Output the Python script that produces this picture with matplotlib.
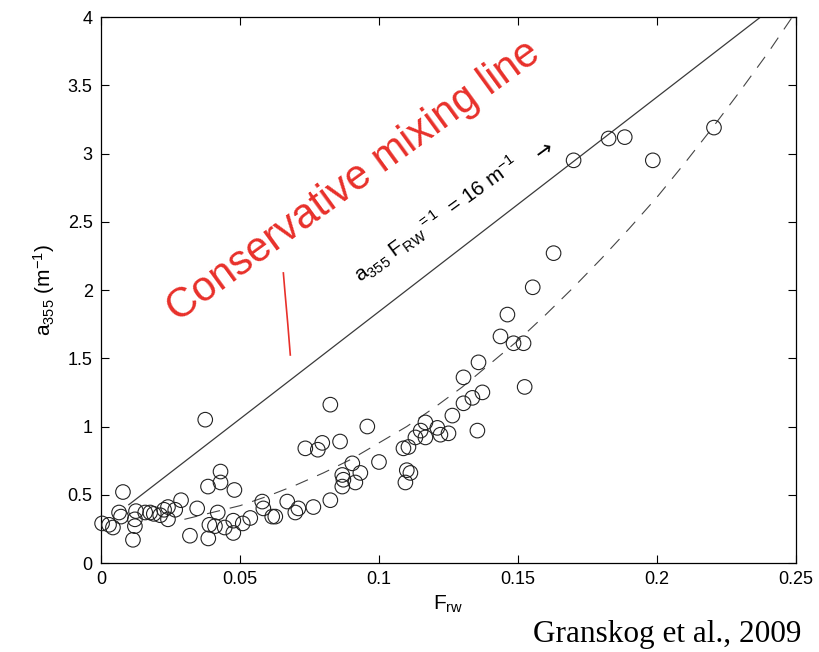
import matplotlib
matplotlib.use('Agg')
import matplotlib.pyplot as plt

plt.rcParams['font.family'] = ['Liberation Sans', 'DejaVu Sans']
plt.rcParams['mathtext.default'] = 'regular'

# measured samples: fraction of river water vs absorption at 355 nm
frw = [0.0004, 0.0029, 0.0043, 0.0065, 0.0072, 0.0079, 0.0126, 0.0122, 0.0122, 0.0115,
       0.0159, 0.0177, 0.019, 0.0213, 0.0227, 0.0241, 0.0241, 0.0267, 0.0288,
       0.032, 0.0346, 0.0375, 0.0385, 0.0386, 0.039, 0.041, 0.042, 0.043, 0.043,
       0.0445, 0.0476, 0.0476, 0.048, 0.051, 0.0537, 0.058, 0.0584, 0.0616, 0.0627,
       0.067, 0.0699, 0.071, 0.0735, 0.0764, 0.078, 0.0796, 0.0825, 0.0825,
       0.086, 0.0868, 0.0868, 0.0872, 0.0904, 0.0915, 0.0933, 0.0958, 0.1,
       0.1088, 0.1095, 0.1106, 0.110, 0.1113, 0.1131, 0.115, 0.1167, 0.1167,
       0.121, 0.1221, 0.125, 0.1264, 0.1304, 0.1304, 0.1336, 0.1354, 0.1358,
       0.1372, 0.1437, 0.1462, 0.1484, 0.152, 0.1524, 0.1553, 0.1628,
       0.170, 0.1826, 0.1884, 0.1985, 0.2205]
a355 = [0.29, 0.28, 0.26, 0.37, 0.34, 0.52, 0.38, 0.32, 0.27, 0.17,
        0.37, 0.37, 0.36, 0.35, 0.39, 0.41, 0.32, 0.39, 0.46,
        0.20, 0.40, 1.05, 0.56, 0.18, 0.28, 0.27, 0.37, 0.67, 0.59,
        0.26, 0.31, 0.22, 0.535, 0.29, 0.33, 0.45, 0.40, 0.34, 0.34,
        0.45, 0.37, 0.40, 0.84, 0.41, 0.83, 0.88, 1.16, 0.46,
        0.89, 0.645, 0.56, 0.61, 0.73, 0.59, 0.66, 1.0, 0.74,
        0.84, 0.59, 0.85, 0.68, 0.66, 0.92, 0.97, 1.03, 0.92,
        0.99, 0.94, 0.95, 1.08, 1.17, 1.36, 1.21, 0.97, 1.47,
        1.25, 1.66, 1.82, 1.61, 1.61, 1.29, 2.02, 2.27,
        2.95, 3.11, 3.12, 2.95, 3.19]

# conservative mixing line between sea-ice end member and river water (16 m^-1)
mix_x = [0.01, 0.25]
mix_y = [0.427, 4.20]

# fitted curve through the samples
fit_x = [0.03, 0.04, 0.05, 0.06, 0.07, 0.08, 0.09, 0.10, 0.11, 0.12, 0.13, 0.14,
         0.15, 0.16, 0.17, 0.18, 0.19, 0.20, 0.21, 0.22, 0.23, 0.24, 0.25]
fit_y = [0.32, 0.37, 0.42, 0.49, 0.57, 0.66, 0.76, 0.88, 1.00, 1.14, 1.29, 1.46,
         1.63, 1.82, 2.02, 2.23, 2.45, 2.68, 2.93, 3.19, 3.46, 3.74, 4.04]

# hand-drawn pointer from the red label to the mixing line
pointer_x = [0.0656, 0.0662, 0.0672, 0.0681]
pointer_y = [2.125, 1.98, 1.75, 1.524]

xticks = [0, 0.05, 0.1, 0.15, 0.2, 0.25]
xticklabels = ['0', '0.05', '0.1', '0.15', '0.2', '0.25']
yticks = [0, 0.5, 1, 1.5, 2, 2.5, 3, 3.5, 4]
yticklabels = ['0', '0.5', '1', '1.5', '2', '2.5', '3', '3.5', '4']

fig = plt.figure(figsize=(8.19, 6.52), dpi=100)
ax = fig.add_axes([0.1233, 0.1365, 0.8486, 0.8374])

ax.plot(mix_x, mix_y, color='#3a3a3a', lw=0.9)
ax.plot(fit_x, fit_y, color='#444444', lw=0.8, dashes=(12, 9))
ax.scatter(frw, a355, s=110, facecolors='none', edgecolors='#222222', linewidths=0.8,
           clip_on=False, zorder=3)

ax.set_xlim(0, 0.25)
ax.set_ylim(0, 4)
ax.set_xticks(xticks)
ax.set_xticklabels(xticklabels)
ax.set_yticks(yticks)
ax.set_yticklabels(yticklabels)
ax.tick_params(direction='in', length=6, width=0.8, labelsize=13,
               top=True, right=True, pad=6)
for sp in ax.spines.values():
    sp.set_linewidth(0.9)

ax.set_xlabel(r'F$_{rw}$', fontsize=15, labelpad=4)
ax.set_ylabel(r'a$_{355}$ (m$^{-1}$)', fontsize=15, labelpad=8)

ax.text(0.0933, 2.05, r'a$_{355}$ F$_{RW}$$^{=1}$  = 16 m$^{-1}$',
        rotation=36, rotation_mode='anchor', ha='left', va='baseline',
        fontsize=15)
ax.text(0.1595, 3.02, '→', rotation=36, rotation_mode='anchor',
        ha='center', va='center', fontsize=15, family='DejaVu Sans')

ax.text(0.0275, 1.76, 'Conservative mixing line', color='#e8302a',
        rotation=36, rotation_mode='anchor', ha='left', va='baseline',
        fontsize=30)
ax.plot(pointer_x, pointer_y, color='#e8302a', lw=1.2)

fig.text(0.979, 0.015, 'Granskog et al., 2009', ha='right', va='baseline',
         fontsize=22.5, family='Liberation Serif')

fig.savefig('out.png', dpi=100)
